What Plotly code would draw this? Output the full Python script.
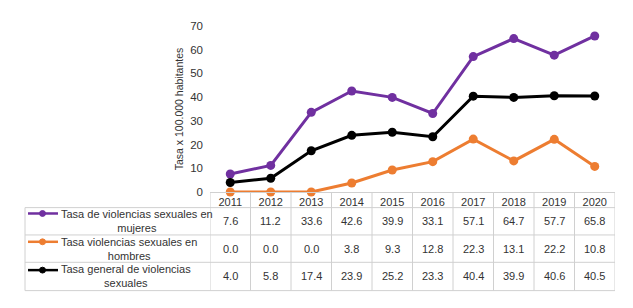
import plotly.graph_objects as go

years = ["2011", "2012", "2013", "2014", "2015", "2016", "2017", "2018", "2019", "2020"]
mujeres = [7.6, 11.2, 33.6, 42.6, 39.9, 33.1, 57.1, 64.7, 57.7, 65.8]
hombres = [0.0, 0.0, 0.0, 3.8, 9.3, 12.8, 22.3, 13.1, 22.2, 10.8]
general = [4.0, 5.8, 17.4, 23.9, 25.2, 23.3, 40.4, 39.9, 40.6, 40.5]
series_names = ["Tasa de violencias sexuales en<br>mujeres",
                "Tasa violencias sexuales en<br>hombres",
                "Tasa general de violencias<br>sexuales"]
series_values = [mujeres, hombres, general]
colors = ["#7030A0", "#ED7D31", "#000000"]
y_ticks = [0, 10, 20, 30, 40, 50, 60, 70]

OFF = 8  # page body margin
W, H = 633 - OFF, 308 - OFF
L, R, T, B = 210 - OFF, 18, 22 - OFF, 116
PW, PH = W - L - R, H - T - B
TXT = "#333333"


def px_x(p):
    return (p - OFF - L) / PW


def px_y(p):
    return (H - B - (p - OFF)) / PH


fig = go.Figure()
for name, vals, col in zip(series_names, series_values, colors):
    fig.add_trace(go.Scatter(
        x=years, y=vals, mode="lines+markers", name=name,
        line=dict(color=col, width=3), marker=dict(color=col, size=9),
        cliponaxis=False, showlegend=False))

grid = "#d0d0d0"
shapes = []
for yy in [208, 236, 264, 293]:
    shapes.append(dict(type="line", xref="paper", yref="paper",
                       x0=px_x(25), x1=px_x(615), y0=px_y(yy), y1=px_y(yy),
                       line=dict(color=grid, width=1)))
shapes.append(dict(type="line", xref="paper", yref="paper",
                   x0=px_x(25), x1=px_x(25), y0=px_y(208), y1=px_y(293),
                   line=dict(color=grid, width=1)))
n = len(years)
for i in range(n + 1):
    xv = i - 0.5
    shapes.append(dict(type="line", xref="x", yref="paper",
                       x0=xv, x1=xv, y0=px_y(192), y1=px_y(293),
                       line=dict(color=grid, width=1)))

annotations = []
row_centers = [222, 250, 278.5]
key_y = [214, 243, 272]
for r, (name, vals, col) in enumerate(zip(series_names, series_values, colors)):
    shapes.append(dict(type="line", xref="paper", yref="paper",
                       x0=px_x(28), x1=px_x(58), y0=px_y(key_y[r]), y1=px_y(key_y[r]),
                       line=dict(color=col, width=2.5)))
    shapes.append(dict(type="circle", xref="paper", yref="paper",
                       x0=px_x(39.5), x1=px_x(45.5), y0=px_y(key_y[r] - 3), y1=px_y(key_y[r] + 3),
                       fillcolor=col, line=dict(color=col, width=1)))
    annotations.append(dict(xref="paper", yref="paper", x=px_x(59), y=px_y(row_centers[r]),
                            xanchor="left", yanchor="middle", align="center", showarrow=False,
                            text=name, font=dict(size=11, color=TXT)))
    for i, v in enumerate(vals):
        annotations.append(dict(xref="x", yref="paper", x=i, y=px_y(row_centers[r]),
                                xanchor="center", yanchor="middle", showarrow=False,
                                text=f"{v:.1f}", font=dict(size=11, color=TXT)))

fig.update_layout(
    width=W, height=H,
    margin=dict(l=L, r=R, t=T, b=B),
    paper_bgcolor="white", plot_bgcolor="white",
    font=dict(family="Liberation Sans, Arial, sans-serif", size=11, color=TXT),
    xaxis=dict(type="category", range=[-0.5, n - 0.5], showgrid=False, zeroline=False,
               showline=True, linecolor=grid, linewidth=1, ticks="",
               tickfont=dict(size=11, color=TXT), ticklabelstandoff=0),
    yaxis=dict(range=[0, 70], tickvals=y_ticks, showgrid=False, zeroline=False,
               showline=False, ticks="", ticklabelstandoff=6,
               tickfont=dict(size=11.5, color=TXT),
               title=dict(text="Tasa x 100.000 habitantes", font=dict(size=10.5, color=TXT),
                          standoff=4)),
    shapes=shapes, annotations=annotations,
)

fig.write_html("out.html")
